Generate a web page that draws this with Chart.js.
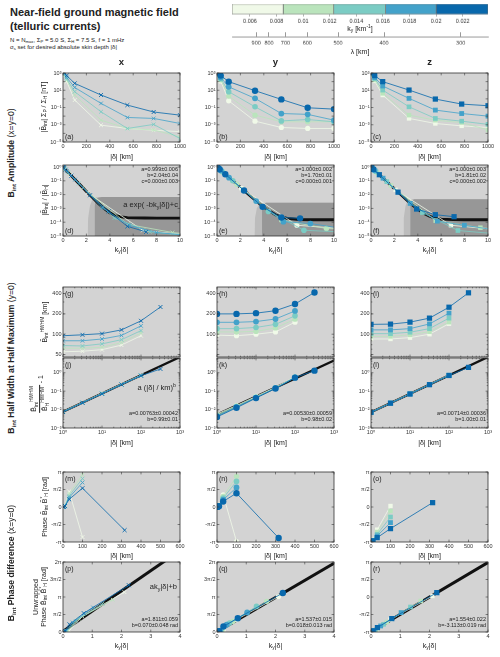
<!DOCTYPE html>
<html><head><meta charset="utf-8">
<script src="https://cdn.jsdelivr.net/npm/chart.js@4.4.1/dist/chart.umd.min.js"></script>
<style>
html,body{margin:0;padding:0;background:#fff;}
#root{position:relative;width:500px;height:657px;overflow:hidden;background:#fff;font-family:'Liberation Sans','DejaVu Sans',Arial,sans-serif;color:#222;}
.t{position:absolute;white-space:nowrap;line-height:1;}
.t sub{font-size:70%;vertical-align:-0.3em;line-height:0;}
.t sup{font-size:70%;vertical-align:0.55em;line-height:0;}
</style></head><body><div id="root"></div>
<script>
// ---------------- DATA (series order: lightest -> darkest) ----------------
const seriesColors = ['#f0f9e8', '#bae4bc', '#7bccc4', '#43a2ca', '#0868ac'];
const cbEdges = [0.00465, 0.0085, 0.0123, 0.0162, 0.0200, 0.0239];
const cbTicks = [0.006, 0.008, 0.01, 0.012, 0.014, 0.016, 0.018, 0.02, 0.022];
const cbLabels = ['0.006', '0.008', '0.01', '0.012', '0.014', '0.016', '0.018', '0.02', '0.022'];
const lambdaTicks = [900, 800, 700, 600, 500, 400, 300];
const lambdaRange = [0.000848, 0.00363]; // 1/λ at the two ends of the axis

// Row 1: |B_int| Σp/Σh [nT] vs |δ| [km]
const deltaAmp = [1, 3.16, 10, 31.6, 100, 325, 550, 775, 1000];
const ampA = [
  [900, 800, 450, 100, 0.72, 8.9e-4, 3.7e-4, 2.3e-4, 1.6e-4],
  [1000, 900, 550, 150, 2.8, 3.4e-3, 3.7e-4, 2.5e-4, 4e-5],
  [1200, 1000, 700, 200, 6.8, 0.032, 3.7e-4, 1.1e-3, 2.5e-5],
  [1500, 1300, 900, 300, 21, 0.3, 7e-3, 5.4e-3, 1.4e-3],
  [2000, 1800, 1200, 500, 63, 2.8, 0.19, 0.03, 0.013]];
const ampB = [
  [900, 800, 500, 120, 0.6, 2.6e-3, 4.8e-4, 3.7e-4, 3.7e-4],
  [1000, 900, 600, 160, 2.1, 1.3e-2, 2.2e-3, 2.2e-3, 2.2e-3],
  [1200, 1000, 750, 220, 6.8, 0.12, 2.8e-3, 4e-3, 2.2e-3],
  [1500, 1300, 900, 300, 25, 1.15, 2e-2, 1.6e-2, 3.4e-3],
  [2000, 1800, 1200, 500, 100, 8.9, 0.87, 0.093, 0.065]];
const ampC = [
  [900, 800, 500, 120, 2.8, 5.4e-3, 1.4e-3, 7.4e-4, 4.8e-4],
  [1000, 900, 600, 160, 4.4, 1.3e-2, 3.4e-3, 1.8e-3, 2.5e-4],
  [1200, 1000, 750, 220, 10.5, 0.12, 5.4e-3, 2.6e-3, 1.1e-3],
  [1500, 1300, 900, 300, 31, 1.15, 0.05, 0.02, 0.01],
  [2000, 1800, 1200, 500, 100, 10.5, 0.95, 0.25, 0.16]];

// Row 2: normalised amplitude vs k_y|δ|
const kDelta = [
  [0.021, 0.066, 0.21, 0.66, 2.1, 6.83, 11.55],
  [0.017, 0.054, 0.17, 0.54, 1.7, 5.53, 9.35, 13.2],
  [0.0135, 0.043, 0.135, 0.43, 1.35, 4.39, 7.43, 10.46],
  [0.0103, 0.033, 0.103, 0.33, 1.03, 3.35, 5.67, 7.98, 10.3],
  [0.0071, 0.022, 0.071, 0.22, 0.71, 2.31, 3.9, 5.5, 7.1]];
const normD = [
  [0.958, 0.874, 0.652, 0.26, 0.0138, 2.5e-5, 1.0e-5],
  [0.966, 0.896, 0.707, 0.333, 0.031, 7e-5, 1.8e-5, 8e-6],
  [0.973, 0.916, 0.759, 0.416, 0.064, 2e-4, 2e-5, 1.1e-5],
  [0.979, 0.935, 0.81, 0.51, 0.122, 1.1e-3, 6e-5, 1.8e-5, 1.2e-5],
  [0.986, 0.956, 0.865, 0.638, 0.235, 9e-3, 6e-4, 5e-5, 2e-5]];
const normE = [
  [0.965, 0.894, 0.70, 0.326, 0.028, 6e-5, 3e-5],
  [0.971, 0.912, 0.749, 0.40, 0.056, 1.4e-4, 3.5e-5, 2.5e-5],
  [0.977, 0.93, 0.795, 0.48, 0.10, 6e-4, 2.6e-5, 2e-5],
  [0.983, 0.945, 0.84, 0.57, 0.17, 3.4e-3, 1.1e-4, 8e-5, 4e-5],
  [0.988, 0.963, 0.886, 0.69, 0.30, 0.02, 1.3e-3, 2.2e-4, 1.9e-4]];
const normF = [
  [0.963, 0.887, 0.68, 0.30, 0.022, 6e-5, 2.5e-5],
  [0.97, 0.906, 0.735, 0.376, 0.046, 1.3e-4, 4e-5, 2e-5],
  [0.976, 0.925, 0.78, 0.46, 0.087, 5e-4, 2.5e-5, 1.5e-5],
  [0.982, 0.942, 0.83, 0.55, 0.155, 2.3e-3, 1.2e-4, 6e-5, 3e-5],
  [0.987, 0.961, 0.88, 0.67, 0.277, 0.015, 9e-4, 3.5e-4, 2.5e-4]];
const fitKX = [0, 0.5, 1, 1.5, 2, 2.5, 3, 3.5, 4, 4.5, 5, 5.5, 6, 7, 8, 10];
const fitD = [1, 0.36, 0.13, 0.047, 0.0169, 0.0063, 0.0024, 9.9e-4, 4.9e-4, 3.0e-4, 2.4e-4, 2.13e-4, 2.05e-4, 2.01e-4, 2e-4, 2e-4];
const fitE = [1, 0.427, 0.183, 0.078, 0.0335, 0.0144, 0.0062, 2.75e-3, 1.26e-3, 6.3e-4, 3.5e-4, 2.4e-4, 1.9e-4, 1.57e-4, 1.51e-4, 1.5e-4];
const fitF = [1, 0.405, 0.164, 0.066, 0.027, 0.011, 4.5e-3, 1.9e-3, 8.7e-4, 4.4e-4, 2.7e-4, 2e-4, 1.7e-4, 1.55e-4, 1.5e-4, 1.5e-4];
const bandDx = [2.1, 2.15, 2.3, 2.5, 2.75, 3.2, 10], bandDy = [1e-5, 2e-4, 1.5e-3, 4.5e-3, 6.5e-3, 6.8e-3, 6.8e-3];
const darkDx = [2.7, 2.7, 2.8, 3.0, 3.3, 10], darkDy = [1e-5, 1.5e-3, 4e-3, 6e-3, 6.8e-3, 6.8e-3];
const bandEx = [3.2, 3.25, 3.4, 3.6, 3.85, 10], bandEy = [1e-5, 2e-4, 1e-3, 2.1e-3, 2.6e-3, 2.6e-3];
const darkEx = [3.85, 3.85, 3.95, 4.2, 10], darkEy = [1e-5, 1e-3, 2.2e-3, 2.6e-3, 2.6e-3];
const bandFx = [2.75, 2.8, 2.95, 3.1, 3.35, 10], bandFy = [1e-5, 2e-4, 1.5e-3, 3.5e-3, 4.7e-3, 4.7e-3];
const darkFx = [3.35, 3.35, 3.45, 3.7, 10], darkFy = [1e-5, 1.5e-3, 3.6e-3, 4.7e-3, 4.7e-3];

// Row 3: HWHM [km] vs |δ|
const deltaHW = [1, 3.16, 10, 31.6, 100, 316];
const hwG = [[55, 56, 59, 69, 95], [62, 62, 64, 75, 104], [68, 67, 72, 83, 113], [80, 80, 85, 96, 133], [95, 98, 102, 116, 158, 253]];
const hwH = [[97, 95, 100, 108, 151], [108, 108, 110, 124, 167], [121, 121, 126, 140, 187], [150, 150, 154, 168, 221], [200, 200, 205, 223, 280, 415]];
const hwI = [[85, 85, 89, 100, 143], [93, 93, 98, 109, 151], [102, 102, 107, 121, 173], [116, 116, 121, 142, 205], [140, 141, 151, 173, 251, 410]];

// Row 4: HWHM ratio - 1
const ratJ = [[0.0077, 0.0242, 0.0755, 0.236, 0.73], [0.0076, 0.024, 0.075, 0.234, 0.72], [0.0076, 0.0238, 0.074, 0.232, 0.71], [0.0075, 0.0236, 0.073, 0.23, 0.70], [0.0074, 0.0234, 0.072, 0.228, 0.69, 1.6]];
const ratK = [[0.0058, 0.0165, 0.052, 0.162, 0.60], [0.0052, 0.0155, 0.049, 0.155, 0.58], [0.0047, 0.0145, 0.046, 0.15, 0.56], [0.0043, 0.0135, 0.044, 0.145, 0.55], [0.004, 0.0125, 0.042, 0.14, 0.54, 1.3]];
const ratL = [[0.0072, 0.0228, 0.072, 0.23, 0.74], [0.0072, 0.0226, 0.072, 0.228, 0.735], [0.0071, 0.0225, 0.071, 0.227, 0.73], [0.0071, 0.0224, 0.071, 0.226, 0.725], [0.0071, 0.0222, 0.070, 0.225, 0.71, 1.95]];
const powX = [1, 1000];
const powJ = [0.00763, 7.1], powK = [0.0053, 4.6], powL = [0.00714, 7.14];

// Row 5: phase vs |δ|
const deltaPh = [1, 3.16, 10, 31.6, 100, 316];
const phM = [[0.01, 0.03, 0.12, 1.39, -2.7], [0.01, 0.03, 0.11, 1.2, 2.9], [0.01, 0.03, 0.1, 1.0, 2.55], [0.01, 0.03, 0.09, 0.85, 2.2], [0.01, 0.03, 0.08, 0.69, 1.69, -2.08]];
const phN = [[0.02, 0.05, 0.15, 1.1, -3.1], [0.02, 0.04, 0.13, 0.95, 2.75], [0.02, 0.04, 0.11, 0.8, 2.3], [0.01, 0.03, 0.09, 0.65, 1.75], [0.01, 0.03, 0.07, 0.5, 1.24, -2.78]];
const phO = [[-3.1, -3.05, -2.95, -2.03, 0.09], [-3.1, -3.06, -2.97, -2.25, -0.36], [-3.11, -3.07, -3.0, -2.45, -0.9], [-3.12, -3.08, -3.02, -2.6, -1.4], [-3.13, -3.09, -3.04, -2.75, -1.94, 0.39]];

// Row 6: unwrapped phase vs k_y|δ|
const kPh = [[0.021, 0.066, 0.21, 0.66, 2.1], [0.017, 0.054, 0.17, 0.54, 1.7], [0.0135, 0.043, 0.135, 0.43, 1.35], [0.0103, 0.033, 0.103, 0.33, 1.03], [0.0071, 0.022, 0.071, 0.22, 0.71, 2.25]];
const unP = [[0.01, 0.03, 0.12, 1.39, 3.58], [0.01, 0.03, 0.11, 1.2, 2.9], [0.01, 0.03, 0.1, 1.0, 2.55], [0.01, 0.03, 0.09, 0.85, 2.2], [0.01, 0.03, 0.08, 0.69, 1.69, 4.2]];
const unQ = [[0.02, 0.05, 0.15, 1.1, 3.18], [0.02, 0.04, 0.13, 0.95, 2.75], [0.02, 0.04, 0.11, 0.8, 2.3], [0.01, 0.03, 0.09, 0.65, 1.75], [0.01, 0.03, 0.07, 0.5, 1.24, 3.5]];
const unR = phO;
const linX = [0, 4];
const linP = [0.07, 7.314], linQ = [0.018, 6.166], linR = [-3.113, 3.103];

// Tick values / labels
const distTicks = [0, 200, 400, 600, 800, 1000], distLabels = ['0', '200', '400', '600', '800', '1000'];
const ampYTicks = [1e-5, 1e-4, 1e-3, 1e-2, 1e-1, 1, 10, 100, 1000];
const ampYLabels = ['10⁻⁵', '', '10⁻³', '', '10⁻¹', '', '10¹', '', '10³'];
const kdTicks = [0, 2, 4, 6, 8, 10], kdLabels = ['0', '2', '4', '6', '8', '10'];
const normYTicks = [1e-5, 1e-4, 1e-3, 1e-2, 1e-1, 1], normYLabels = ['10⁻⁵', '10⁻⁴', '10⁻³', '10⁻²', '10⁻¹', '10⁰'];
const hwYTicks = [50, 100, 200, 400], hwYLabelsG = ['50', '100', '200', '400'], hwYLabels = ['', '100', '200', '400'];
const logDTicks = [1, 10, 100, 1000], logDLabels = ['10⁰', '10¹', '10²', '10³'];
const ratYTicks = [1e-3, 1e-2, 1e-1, 1], ratYLabels = ['10⁻³', '10⁻²', '10⁻¹', '10⁰'];
const phXTicks = [0, 100, 200, 300, 400, 500, 600], phXLabels = ['0', '100', '200', '300', '400', '500', '600'];
const phYTicks = [-Math.PI, -Math.PI / 2, 0, Math.PI / 2, Math.PI], phYLabels = ['-π', '-π/2', '0', 'π/2', 'π'];
const unYTicks = [0, Math.PI / 2, Math.PI, 3 * Math.PI / 2, 2 * Math.PI], unYLabels = ['0', 'π/2', 'π', '3π/2', '2π'];
const kpTicks = [0, 1, 2, 3, 4], kpLabels = ['0', '1', '2', '3', '4'];

// ---------------- LAYOUT ----------------
const COLS = [63, 217, 371], PW = 117;
const ROWS = [[73, 69], [165, 71], [287, 70], [358, 70], [472, 70], [562, 70]];
const MARK = ['crossRot', 'circle', 'rect'];
const RAD = [[2.6, 2.6, 2.6, 2.6, 2.8], [2.6, 2.7, 2.8, 2.9, 3.2], [3.1, 3.2, 3.3, 3.4, 3.7]];

Chart.defaults.font.family = "'Liberation Sans','DejaVu Sans',Arial,sans-serif";
Chart.defaults.font.size = 5.5;
Chart.defaults.color = '#333';

const frame = {
  id: 'frame',
  beforeDraw(ch, args, o) {
    const a = ch.chartArea, c = ch.ctx;
    c.save(); c.fillStyle = '#d3d3d3';
    c.fillRect(a.left, a.top, a.right - a.left, a.bottom - a.top); c.restore();
  },
  afterDraw(ch, args, o) {
    const a = ch.chartArea, c = ch.ctx, xs = ch.scales.x, ys = ch.scales.y;
    const mn = (o && o.minor) || {};
    c.save();
    c.strokeStyle = '#3c3c3c'; c.lineWidth = 0.6;
    c.beginPath();
    const tx = (v, L) => { const p = xs.getPixelForValue(v); if (p < a.left - 0.5 || p > a.right + 0.5) return; c.moveTo(p, a.bottom); c.lineTo(p, a.bottom - L); c.moveTo(p, a.top); c.lineTo(p, a.top + L); };
    const ty = (v, L) => { const p = ys.getPixelForValue(v); if (p < a.top - 0.5 || p > a.bottom + 0.5) return; c.moveTo(a.left, p); c.lineTo(a.left + L, p); c.moveTo(a.right, p); c.lineTo(a.right - L, p); };
    xs.ticks.forEach(t => tx(t.value, 2.4));
    ys.ticks.forEach(t => ty(t.value, 2.4));
    const minors = (s, fn) => { const lo = Math.floor(Math.log10(s.min)), hi = Math.ceil(Math.log10(s.max)); for (let e = lo; e < hi; e++) for (let m = 2; m < 10; m++) { const v = m * Math.pow(10, e); if (v > s.min && v < s.max) fn(v, 1.3); } };
    if (mn.x) minors(xs, tx);
    if (mn.y) minors(ys, ty);
    c.stroke();
    c.lineWidth = 0.8; c.strokeStyle = '#333';
    c.strokeRect(a.left, a.top, a.right - a.left, a.bottom - a.top);
    c.restore();
  }
};

function axis(type, min, max, ticks, labels, show, isY) {
  return {
    type, min, max, bounds: 'data', offset: false,
    grid: {display: false, drawTicks: false, tickLength: 0}, border: {display: false},
    ticks: {display: show, autoSkip: false, maxRotation: 0, minRotation: 0, padding: 1.5, color: '#333', font: {size: 5.5},
      callback: (v, i) => (labels[i] !== undefined ? labels[i] : '')},
    afterBuildTicks: s => { s.ticks = ticks.map(v => ({value: v})); },
    afterFit: s => { if (isY) s.width = 30; else s.height = show ? 11 : 3; }
  };
}
const ax = (type, min, max, t, l, show) => axis(type, min, max, t, l, show !== false, false);
const ay = (type, min, max, t, l) => axis(type, min, max, t, l, true, true);

function series(xs, ys, col) {
  const out = [];
  for (let i = ys.length - 1; i >= 0; i--) {
    const xi = Array.isArray(xs[0]) ? xs[i] : xs;
    const color = seriesColors[i];
    out.push({
      data: ys[i].map((y, j) => ({x: xi[j], y: y})),
      borderColor: color, backgroundColor: color, borderWidth: 0.8,
      pointStyle: MARK[col], pointRadius: RAD[col][i], pointHoverRadius: RAD[col][i],
      pointBackgroundColor: color, pointBorderColor: color, pointBorderWidth: col === 0 ? 0.9 : 0,
      fill: false, tension: 0
    });
  }
  return out;
}
function fitDS(xs, ys, w) {
  return {data: ys.map((y, j) => ({x: xs[j], y})), borderColor: '#111', backgroundColor: '#111', borderWidth: w || 2.6, pointRadius: 0, fill: false, tension: 0};
}
function shadeDS(xs, ys, color) {
  return {data: ys.map((y, j) => ({x: xs[j], y})), borderColor: color, backgroundColor: color, borderWidth: 0, pointRadius: 0, fill: 'start', tension: 0};
}

function baseOpts(extra) {
  return Object.assign({
    animation: false, responsive: false, maintainAspectRatio: false, devicePixelRatio: 1, events: [],
    layout: {padding: {top: 7, right: 12, left: 2, bottom: 2}},
    plugins: {legend: {display: false}, tooltip: {enabled: false}}
  }, extra);
}

function place(rect, cfg) {
  const root = document.getElementById('root');
  const cv = document.createElement('canvas');
  const w0 = Math.round(rect.w + 46), h0 = Math.round(rect.h + 22);
  cv.width = w0; cv.height = h0;
  cv.style.position = 'absolute'; cv.style.left = '0px'; cv.style.top = '0px';
  cv.style.width = w0 + 'px'; cv.style.height = h0 + 'px';
  root.appendChild(cv);
  const ch = new Chart(cv, cfg);
  let a = ch.chartArea;
  const dw = rect.w - (a.right - a.left), dh = rect.h - (a.bottom - a.top);
  if (Math.abs(dw) > 0.2 || Math.abs(dh) > 0.2) { ch.resize(w0 + dw, h0 + dh); a = ch.chartArea; }
  cv.style.left = (rect.l - a.left) + 'px';
  cv.style.top = (rect.t - a.top) + 'px';
  return ch;
}

function panel(r, c, xAx, yAx, datasets, minor) {
  const rect = {l: COLS[c], t: ROWS[r][0], w: PW, h: ROWS[r][1]};
  const opts = baseOpts({scales: {x: xAx, y: yAx}});
  opts.plugins.frame = {minor: minor || {}};
  return place(rect, {type: 'line', data: {datasets}, plugins: [frame], options: opts});
}

// ---------------- PANELS ----------------
const LOG = 'logarithmic', LIN = 'linear';
// Row 1
[ampA, ampB, ampC].forEach((d, c) => panel(0, c, ax(LIN, 0, 1000, distTicks, distLabels), ay(LOG, 1e-5, 1e3, ampYTicks, ampYLabels), series(deltaAmp, d, c)));
// Row 2
const rowNorm = [[normD, fitD, bandDx, bandDy, darkDx, darkDy], [normE, fitE, bandEx, bandEy, darkEx, darkEy], [normF, fitF, bandFx, bandFy, darkFx, darkFy]];
rowNorm.forEach((p, c) => panel(1, c, ax(LIN, 0, 10, kdTicks, kdLabels), ay(LOG, 1e-5, 1.4, normYTicks, normYLabels),
  [...series(kDelta, p[0], c), fitDS(fitKX, p[1], 2.8), shadeDS(p[4], p[5], '#979797'), shadeDS(p[2], p[3], '#bcbcbc')]));
// Row 3
[hwG, hwH, hwI].forEach((d, c) => panel(2, c, ax(LOG, 1, 1000, logDTicks, logDLabels, false), ay(LOG, 46, 500, hwYTicks, c === 0 ? hwYLabelsG : hwYLabels), series(deltaHW, d, c), {x: true, y: true}));
// Row 4
[[ratJ, powJ], [ratK, powK], [ratL, powL]].forEach((p, c) => panel(3, c, ax(LOG, 1, 1000, logDTicks, logDLabels), ay(LOG, 1e-3, 6.3, ratYTicks, ratYLabels), [...series(deltaHW, p[0], c), fitDS(powX, p[1], 2.4)], {x: true, y: true}));
// Row 5
[phM, phN, phO].forEach((d, c) => panel(4, c, ax(LIN, 0, 600, phXTicks, phXLabels), ay(LIN, -Math.PI, Math.PI, phYTicks, phYLabels), series(deltaPh, d, c)));
// Row 6
panel(5, 0, ax(LIN, 0, 4, kpTicks, kpLabels), ay(LIN, 0, 2 * Math.PI, unYTicks, unYLabels), [...series(kPh, unP, 0), fitDS(linX, linP, 3)]);
panel(5, 1, ax(LIN, 0, 4, kpTicks, kpLabels), ay(LIN, 0, 2 * Math.PI, unYTicks, unYLabels), [...series(kPh, unQ, 1), fitDS(linX, linQ, 3)]);
panel(5, 2, ax(LIN, 0, 4, kpTicks, kpLabels), ay(LIN, -Math.PI, Math.PI, phYTicks, phYLabels), [...series(kPh, unR, 2), fitDS(linX, linR, 3)]);

// ---------------- COLOUR BAR ----------------
place({l: 232, t: 4, w: 256, h: 9}, {
  type: 'bar',
  data: {labels: ['k'], datasets: seriesColors.map((col, i) => ({data: [[cbEdges[i], cbEdges[i + 1]]], backgroundColor: col, borderColor: '#6e6e6e', borderWidth: 0.7, borderSkipped: false, barPercentage: 1, categoryPercentage: 1, grouped: false}))},
  options: baseOpts({
    indexAxis: 'y',
    layout: {padding: {top: 2, right: 12, left: 12, bottom: 1}},
    scales: {
      x: {type: 'linear', min: cbEdges[0], max: cbEdges[5], grid: {display: true, drawOnChartArea: false, drawTicks: true, tickLength: 2, color: '#777', lineWidth: 0.6}, border: {display: false},
        ticks: {autoSkip: false, maxRotation: 0, padding: 1, font: {size: 5.5}, color: '#333', callback: (v, i) => cbLabels[i]},
        afterBuildTicks: s => { s.ticks = cbTicks.map(v => ({value: v})); }},
      y: {display: false}
    }
  })
});
place({l: 232, t: 32, w: 256, h: 3}, {
  type: 'line', data: {datasets: [{data: []}]},
  options: baseOpts({
    layout: {padding: {top: 1, right: 12, left: 12, bottom: 1}},
    scales: {
      x: {type: 'linear', min: lambdaRange[0], max: lambdaRange[1], grid: {display: true, drawOnChartArea: true, drawTicks: false, color: '#555', lineWidth: 0.6}, border: {display: true, color: '#888', width: 0.8},
        ticks: {autoSkip: false, maxRotation: 0, padding: 2, font: {size: 5.5}, color: '#333', callback: (v, i) => String(lambdaTicks[i])},
        afterBuildTicks: s => { s.ticks = lambdaTicks.map(l => ({value: 1 / l})); }},
      y: {display: false, min: 0, max: 1}
    }
  })
});

// ---------------- TEXT ----------------
function txt(html, x, y, size, o) {
  o = o || {};
  const d = document.createElement('div');
  d.className = 't'; d.innerHTML = html;
  d.style.left = x + 'px'; d.style.top = y + 'px'; d.style.fontSize = size + 'px';
  if (o.bold) d.style.fontWeight = 'bold';
  if (o.lh) { d.style.lineHeight = o.lh; d.style.textAlign = 'center'; }
  const tx = o.align === 'right' ? '-100%' : o.align === 'left' ? '0' : '-50%';
  d.style.transform = 'translate(' + tx + ',-50%)' + (o.rot ? ' rotate(-90deg)' : '');
  document.getElementById('root').appendChild(d);
  return d;
}
const BT = 'B&#771;';
txt('Near-field ground magnetic field', 10, 12, 11, {bold: 1, align: 'left'});
txt('(telluric currents)', 10, 25.5, 11, {bold: 1, align: 'left'});
txt('N = N<sub>max</sub>, Σ<sub>P</sub> = 5.0 S, Σ<sub>H</sub> = 7.5 S, f = 1 mHz', 10, 39.5, 6, {align: 'left'});
txt('σ<sub>s</sub> set for desired absolute skin depth |δ|', 10, 46.5, 6, {align: 'left'});
txt('x', 121.5, 62, 9.5, {bold: 1});
txt('y', 275.5, 62, 9.5, {bold: 1});
txt('z', 429.5, 62, 9.5, {bold: 1});
txt('k<sub>y</sub> [km<sup>-1</sup>]', 360, 28, 7);
txt('λ [km]', 360, 51, 7);

txt('<b>B<sub>int</sub> Amplitude</b> (x=y=0)', 11, 153, 8.6, {rot: 1});
txt('<b>B<sub>int</sub> Half Width at Half Maximum</b> (y=0)', 11, 358, 8.6, {rot: 1});
txt('<b>B<sub>int</sub> Phase difference</b> (x=y=0)', 11, 563, 8.6, {rot: 1});

txt('|' + BT + '<sub>int</sub>| Σ<sub>P</sub> / Σ<sub>H</sub> [nT]', 43, 107, 7, {rot: 1});
txt('|' + BT + '<sub>int</sub>| / |' + BT + '<sub>H</sub>|', 44, 200, 7, {rot: 1});
txt(BT + '<sub>int</sub><sup>HWHM</sup> [km]', 44, 322, 7, {rot: 1});
txt('<span style="display:inline-flex;flex-direction:column;align-items:center;vertical-align:middle;line-height:1.2"><span style="border-bottom:0.8px solid #222;padding:0 1px 1px">' + BT + '<sub>int</sub><sup>HWHM</sup></span><span style="padding-top:1px">' + BT + '<sub>H</sub><sup>HWHM</sup></span></span><span style="vertical-align:middle"> - 1</span>', 40, 394, 7, {rot: 1});
txt('Phase ' + BT + '<sub>int</sub> ' + BT + '<sup>*</sup><sub>H</sub> [rad]', 44, 507, 7, {rot: 1});
txt('Unwrapped<br>Phase ' + BT + '<sub>int</sub> ' + BT + '<sup>*</sup><sub>H</sub> [rad]', 40, 597, 7, {rot: 1, lh: '1.15'});

const letters = ['abc', 'def', 'ghi', 'jkl', 'mno', 'pqr'];
ROWS.forEach((rw, r) => {
  COLS.forEach((L, c) => {
    const B = rw[0] + rw[1];
    const y = r < 2 ? B - 6 : rw[0] + 6;
    txt('(' + letters[r][c] + ')', L + 2, y, 7, {align: 'left'});
    const cx = L + PW / 2;
    if (r === 0 || r === 3 || r === 4) txt('|δ| [km]', cx, B + (r === 4 ? 12.5 : 13.5), 7);
    if (r === 1 || r === 5) txt('k<sub>y</sub>|δ|', cx, B + 12.5, 7);
  });
});

const par = (lines, c, y0, dy) => lines.forEach((s, i) => txt(s, COLS[c] + PW - 2, y0 + i * dy, 5.5, {align: 'right'}));
par(['a=0.999±0.006', 'b=2.04±0.04', 'c=0.000±0.003'], 0, 170, 6);
par(['a=1.000±0.002', 'b=1.70±0.01', 'c=0.000±0.001'], 1, 170, 6);
par(['a=1.000±0.003', 'b=1.81±0.02', 'c=0.000±0.002'], 2, 170, 6);
txt('a exp( -bk<sub>y</sub>|δ|)+c', COLS[0] + PW - 2, 205, 7.5, {align: 'right'});
par(['a=0.00763±0.00042', 'b=0.99±0.01'], 0, 414, 5.5);
par(['a=0.00530±0.00059', 'b=0.98±0.02'], 1, 414, 5.5);
par(['a=0.00714±0.00036', 'b=1.00±0.01'], 2, 414, 5.5);
txt('a (|δ| / km)<sup>b</sup>', COLS[0] + PW - 4, 388, 7.5, {align: 'right'});
par(['a=1.811±0.059', 'b=0.070±0.048 rad'], 0, 620, 5.5);
par(['a=1.537±0.015', 'b=0.018±0.013 rad'], 1, 620, 5.5);
par(['a=1.554±0.022', 'b=-3.113±0.019 rad'], 2, 620, 5.5);
txt('ak<sub>y</sub>|δ|+b', COLS[0] + PW - 3, 587, 7.5, {align: 'right'});
</script></body></html>
